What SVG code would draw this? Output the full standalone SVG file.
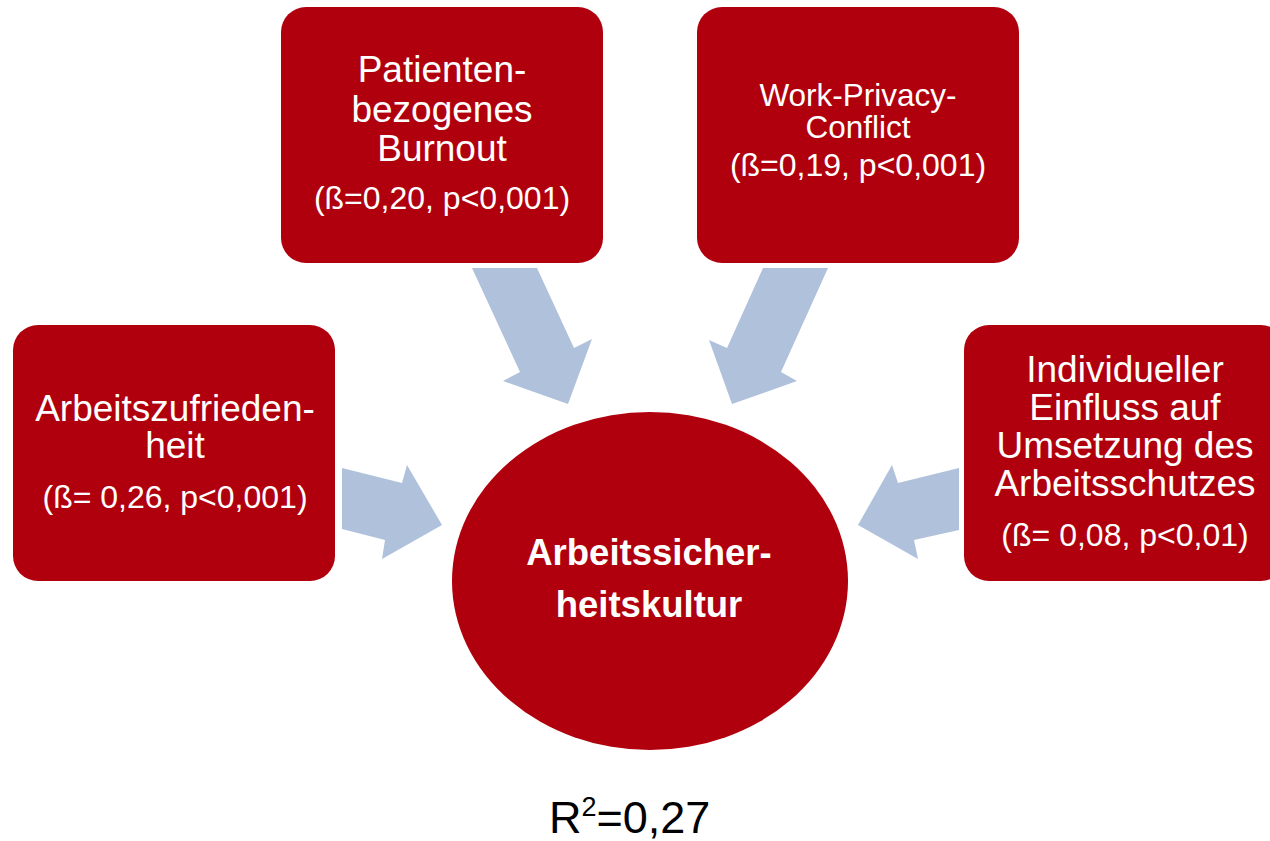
<svg xmlns="http://www.w3.org/2000/svg" width="1270" height="841" viewBox="0 0 1270 841">
<style>
.box{fill:#B1000D}
.arrow{fill:#B0C1DC}
.t{fill:#fff;font-family:"Liberation Sans",Arial,sans-serif;text-anchor:middle}
.big{font-size:37px}
.mid{font-size:31.5px}
.small{font-size:32px}
.bold{font-size:36.5px;font-weight:bold}
.r{font-family:"Liberation Sans",Arial,sans-serif;font-size:45px;fill:#000}
</style>
<rect width="1270" height="841" fill="#fff"/>
<g id="connectors">
<polygon class="arrow" points="472,268 537,268 574,348 592,339 568,404 503,381 520,372"/>
<polygon class="arrow" points="828,268 763,268 727,348 709,340 732,404 797,381 781,372"/>
<polygon class="arrow" points="342,468 402,483 407,465 442,525 382,559 385,540 342,529"/>
<polygon class="arrow" points="959,468 898,483 892,465 858,525 918,559 914,540 959,530"/>
</g>
<g id="node-burnout">
<rect class="box" x="281" y="7" width="322" height="256" rx="25"/>
<text class="t big" x="442" y="82">Patienten-</text>
<text class="t big" x="442" y="122">bezogenes</text>
<text class="t big" x="442" y="161">Burnout</text>
<text class="t small" x="442" y="209">(ß=0,20, p&lt;0,001)</text>
</g>
<g id="node-wpc">
<rect class="box" x="697" y="7" width="322" height="256" rx="25"/>
<text class="t mid" x="858" y="106">Work-Privacy-</text>
<text class="t mid" x="858" y="138">Conflict</text>
<text class="t small" x="858" y="176">(ß=0,19, p&lt;0,001)</text>
</g>
<g id="node-zufriedenheit">
<rect class="box" x="13" y="325" width="322" height="256" rx="25"/>
<text class="t big" x="175" y="421">Arbeitszufrieden-</text>
<text class="t big" x="175" y="458">heit</text>
<text class="t small" x="175" y="508">(ß= 0,26, p&lt;0,001)</text>
</g>
<g id="node-einfluss">
<rect class="box" x="964" y="325" width="322" height="256" rx="25"/>
<text class="t big" x="1125" y="382">Individueller</text>
<text class="t big" x="1125" y="420">Einfluss auf</text>
<text class="t big" x="1125" y="458">Umsetzung des</text>
<text class="t big" x="1125" y="496">Arbeitsschutzes</text>
<text class="t small" x="1125" y="546">(ß= 0,08, p&lt;0,01)</text>
</g>
<g id="node-center">
<ellipse class="box" cx="650" cy="581" rx="198" ry="169"/>
<text class="t bold" x="649" y="565">Arbeitssicher-</text>
<text class="t bold" x="649" y="617">heitskultur</text>
</g>
<g id="r2">
<text class="r" x="549" y="833">R<tspan font-size="27px" dy="-17">2</tspan><tspan dy="17">=0,27</tspan></text>
</g>
</svg>
